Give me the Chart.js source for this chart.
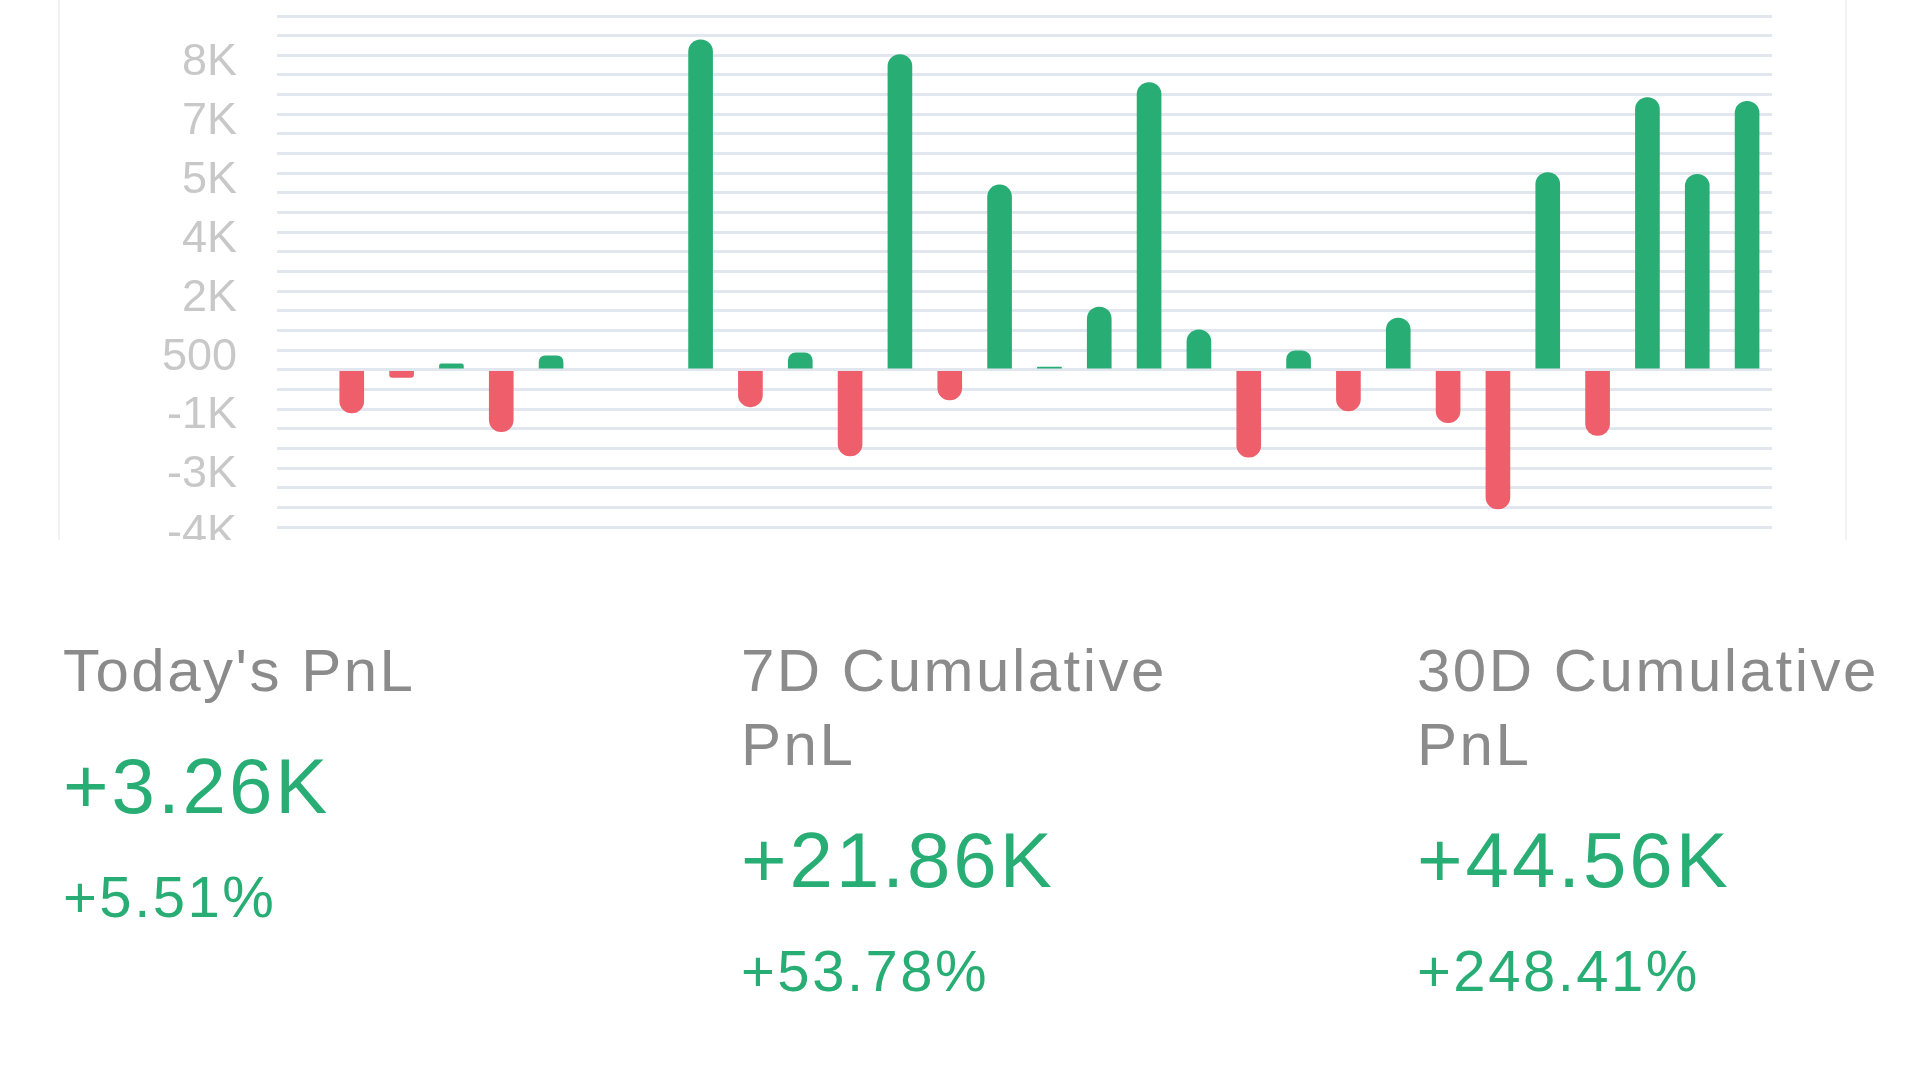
<!DOCTYPE html>
<html>
<head>
<meta charset="utf-8">
<script src="https://cdn.jsdelivr.net/npm/chart.js@4.4.1/dist/chart.umd.min.js"></script>
<style>
  html, body { margin: 0; padding: 0; background: #fff; width: 1920px; height: 1080px; overflow: hidden; font-family: "Liberation Sans", Arial, sans-serif; }
  #card { position: absolute; left: 0; top: 0; width: 1920px; height: 540px; overflow: hidden; }
  #card canvas { position: absolute; left: 0; top: 0; }
  .edge { position: absolute; top: 0; width: 2px; height: 540px; background: #f1f2f4; }
  .stat { position: absolute; top: 634px; width: 480px; }
  .stat .title { font-size: 60px; line-height: 74px; color: #8b8b8b; letter-spacing: 2.5px; }
  .stat .value { font-size: 78px; line-height: 78px; color: #28ae74; margin-top: 39px; letter-spacing: 3px; }
  .stat .pct { font-size: 58px; line-height: 58px; color: #28ae74; margin-top: 43px; letter-spacing: 2.5px; }
</style>
</head>
<body>
<div id="card">
  <canvas id="pnlChart" width="1920" height="560"></canvas>
</div>
<div class="edge" style="left:58px"></div>
<div class="edge" style="left:1845px"></div>
<div id="stats"></div>

<script>
// 30 days of daily PnL (null = no trade that day)
const days = ['1', '2', '3', '4', '5', '6', '7', '8', '9', '10',
              '11', '12', '13', '14', '15', '16', '17', '18', '19', '20',
              '21', '22', '23', '24', '25', '26', '27', '28', '29', '30'];
const pnl = [null, -1140, -200, 160, -1640, 370, null, null, 8730, -980,
             450, -2280, 8340, -800, 4890, 70, 1660, 7600, 1060, -2310,
             500, -1090, 1370, -1400, -3680, 5220, -1740, 7200, 5170, 7100];

// y axis: grid every step, a label on every third line (bottom to top)
const yMin = -4160;
const yMax = 9360;
const yStep = 520;
const yTickLabels = ['-4K', '-3K', '-1K', '500', '2K', '4K', '5K', '7K', '8K'];

// summary under the chart
const statTitles = ["Today's PnL", '7D Cumulative PnL', '30D Cumulative PnL'];
const statValues = ['+3.26K', '+21.86K', '+44.56K'];
const statPcts = ['+5.51%', '+53.78%', '+248.41%'];
const statLeft = [63, 741, 1417];

const GREEN = '#28ae74';
const RED = '#ee5f6b';

const ctx = document.getElementById('pnlChart').getContext('2d');
new Chart(ctx, {
  type: 'bar',
  data: {
    labels: days,
    datasets: [{
      data: pnl,
      backgroundColor: pnl.map(v => (v !== null && v < 0) ? RED : GREEN),
      barThickness: 24,
      borderRadius: 12,
      borderSkipped: 'start'
    }]
  },
  options: {
    responsive: false,
    animation: false,
    layout: { padding: { left: 0, right: 148, top: 16, bottom: 33 } },
    plugins: { legend: { display: false }, tooltip: { enabled: false } },
    scales: {
      x: { display: false, offset: true, grid: { display: false } },
      y: {
        min: yMin,
        max: yMax,
        afterFit: s => { s.width = 277; s.paddingTop = 0; s.paddingBottom = 0; },
        border: { display: false },
        grid: { color: '#e1e6ef', lineWidth: 3, drawTicks: false },
        ticks: {
          stepSize: yStep,
          autoSkip: false,
          padding: 40,
          labelOffset: 7,
          color: '#c8c8c8',
          font: { family: '"Liberation Sans", Arial, sans-serif', size: 45 },
          callback: (v, i) => (i % 3 === 0 ? yTickLabels[i / 3] : '')
        }
      }
    }
  }
});

const stats = document.getElementById('stats');
statTitles.forEach((t, i) => {
  const col = document.createElement('div');
  col.className = 'stat';
  col.style.left = statLeft[i] + 'px';
  col.innerHTML = `<div class="title">${t}</div><div class="value">${statValues[i]}</div><div class="pct">${statPcts[i]}</div>`;
  stats.appendChild(col);
});
</script>
</body>
</html>
